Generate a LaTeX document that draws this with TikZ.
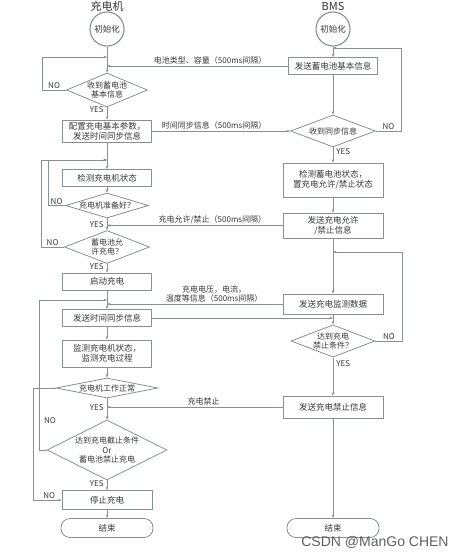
\documentclass[tikz,border=0pt]{standalone}
\usepackage{fontspec}
\setmainfont{Noto Sans CJK SC}
\newfontfamily\markfont{Liberation Sans}
\usepackage{xcolor}
\usetikzlibrary{shapes.geometric, arrows.meta, positioning}
\definecolor{linegray}{RGB}{135,145,145}
\definecolor{txtgray}{RGB}{55,55,55}
\definecolor{markgray}{RGB}{95,95,95}

\begin{document}
\begin{tikzpicture}[
    x=1pt, y=-1pt,
    box/.style={rectangle, draw=linegray, line width=0.8pt, minimum width=89pt, minimum height=17pt, inner sep=1pt, align=center, text=txtgray, font=\fontsize{8.5}{10}\selectfont},
    decision/.style={diamond, draw=linegray, line width=0.8pt, inner sep=0pt, align=center, text=txtgray, font=\fontsize{8}{9.5}\selectfont},
    startnode/.style={circle, draw=linegray, line width=1.1pt, minimum size=34pt, inner sep=0pt, text=txtgray, font=\fontsize{8.5}{10}\selectfont},
    endnode/.style={rectangle, rounded corners=9pt, draw=linegray, line width=0.8pt, minimum width=92pt, minimum height=19pt, text=txtgray, font=\fontsize{8.5}{10}\selectfont},
    title/.style={text=txtgray, font=\fontsize{11}{13}\selectfont},
    lbl/.style={text=txtgray, font=\fontsize{8}{9.5}\selectfont, inner sep=1pt, align=center},
    arr/.style={-{Stealth[length=3.5pt, width=2.6pt]}, draw=linegray, line width=0.7pt},
    watermark/.style={text=markgray, font=\markfont\fontsize{14}{16}\selectfont}
]
\useasboundingbox (0,0) rectangle (468,557);

% Titels
\node[title] (tL) at (107,6) {充电机};
\node[title] (tR) at (333,6) {BMS};

% Linker kolom:充电机
\node[startnode] (iL) at (107,29) {初始化};
\node[decision, shape aspect=2.4, minimum width=81pt, minimum height=34pt] (d1) at (107,90) {收到蓄电池\\基本信息};
\node[box, minimum height=22pt] (b1) at (107,131) {配置充电基本参数，\\发送时间同步信息};
\node[box] (b2) at (107,178) {检测充电机状态};
\node[decision, shape aspect=3.3, minimum width=83pt, minimum height=25pt] (d3) at (107,205.5) {充电机准备好？};
\node[decision, shape aspect=2.6, minimum width=85pt, minimum height=33pt] (d4) at (107,247) {蓄电池允\\许充电？};
\node[box] (b3) at (107,281.5) {启动充电};
\node[box] (b4) at (107,318) {发送时间同步信息};
\node[box, minimum height=27pt] (b5) at (107,353.5) {监测充电机状态，\\监测充电过程};
\node[decision, shape aspect=5.1, minimum width=102pt, minimum height=20pt] (d5) at (107,388) {充电机工作正常};
\node[decision, shape aspect=2, minimum width=120pt, minimum height=60pt] (d6) at (107,450) {达到充电截止条件\\Or\\蓄电池禁止充电};
\node[box, minimum width=90pt, minimum height=19pt] (b6) at (107,500) {停止充电};
\node[endnode] (e1) at (107,528) {结束};

% Rechter kolom: BMS
\node[startnode] (iR) at (333,29) {初始化};
\node[box] (r1) at (333,66) {发送蓄电池基本信息};
\node[decision, shape aspect=2.65, minimum width=85pt, minimum height=32pt] (d2) at (333,131) {收到同步信息};
\node[box, minimum width=100pt, minimum height=34pt] (r2) at (333,180) {检测蓄电池状态，\\置充电允许/禁止状态};
\node[box, minimum width=100pt, minimum height=25pt] (r3) at (333,225.5) {发送充电允许\\/禁止信息};
\node[box, minimum width=100pt, minimum height=20pt] (r4) at (333,304) {发送充电监测数据};
\node[decision, shape aspect=2.6, minimum width=83pt, minimum height=32pt] (d7) at (333,341) {达到充电\\禁止条件？};
\node[box, minimum width=100pt, minimum height=22pt] (r5) at (333,407) {发送充电禁止信息};
\node[endnode] (e2) at (333,528) {结束};

% Knooppunten van de lussen
\coordinate (j1) at (107,57);
\coordinate (j2) at (107,160);
\coordinate (j3) at (107,300);
\coordinate (j4) at (333,48);
\coordinate (j5) at (333,252);

% Pijlen links
\draw[arr] (iL) -- (d1);
\draw[arr] (d1.west) -- node[lbl, above] {NO} ++(-24,0) |- (j1);
\draw[arr] (d1) -- node[lbl, left, pos=0.2, xshift=-2pt] {YES} (b1);
\draw[arr] (b1) -- (b2);
\draw[arr] (b2) -- (d3);
\draw[arr] (d3.west) -- node[lbl, above] {NO} ++(-17,0) |- (j2);
\draw[arr] (d3) -- node[lbl, left, pos=0.55, xshift=-2pt] {YES} (d4);
\draw[arr] (d4.west) -- node[lbl, above] {NO} ++(-23,0) |- (j2);
\draw[arr] (d4) -- node[lbl, left, pos=0.3, xshift=-2pt] {YES} (b3);
\draw[arr] (b3) -- (b4);
\draw[arr] (b4) -- (b5);
\draw[arr] (b5) -- (d5);
\draw[arr] (d5) -- node[lbl, left, pos=0.45, xshift=-2pt] {YES} (d6);
\draw[arr] (d5.west) -- ++(-22,0) |- node[lbl, above, pos=0.78] {NO} (b6.west);
\draw[arr] (d6.west) -- ++(-7,0) |- (j3);
\node[lbl] (no6) at (50,421) {NO};
\draw[arr] (d6) -- node[lbl, left, pos=0.3, xshift=-2pt] {YES} (b6);
\draw[arr] (b6) -- (e1);

% Pijlen rechts
\draw[arr] (iR) -- (r1);
\draw[arr] (r1) -- (d2);
\draw[arr] (d2.east) -- node[lbl, above] {NO} ++(25,0) |- (j4);
\draw[arr] (d2) -- node[lbl, right, pos=0.3, xshift=2pt] {YES} (r2);
\draw[arr] (r2) -- (r3);
\draw[arr] (r3) -- (r4);
\draw[arr] (r4) -- (d7);
\draw[arr] (d7.east) -- node[lbl, above] {NO} ++(27,0) |- (j5);
\draw[arr] (d7) -- node[lbl, right, pos=0.15, xshift=2pt] {YES} (r5);
\draw[arr] (r5) -- (e2);

% Berichten tussen 充电机 en BMS
\draw[arr] (r1.west) -- node[lbl, above, pos=0.43] {电池类型、容量（500ms间隔）} (r1.west -| d1);
\draw[arr] (b1.east) -- node[lbl, above, pos=0.45] {时间同步信息（500ms间隔）} (d2.west);
\draw[arr] (r3.west) -- node[lbl, above, pos=0.4] {充电允许/禁止（500ms间隔）} (r3.west -| d3);
\draw[arr] (r4.west) -- node[lbl, above, pos=0.39] {充电电压，电流，\\温度等信息（500ms间隔）} (r4.west -| b4);
\draw[arr] (b4.east) -- (b4.east -| d7);
\draw[arr] (r5.west) -- node[lbl, above, pos=0.45] {充电禁止} (r5.west -| d5);

% Watermerk
\node[watermark] (wm) at (375,542) {CSDN @ManGo CHEN};

\end{tikzpicture}
\end{document}
